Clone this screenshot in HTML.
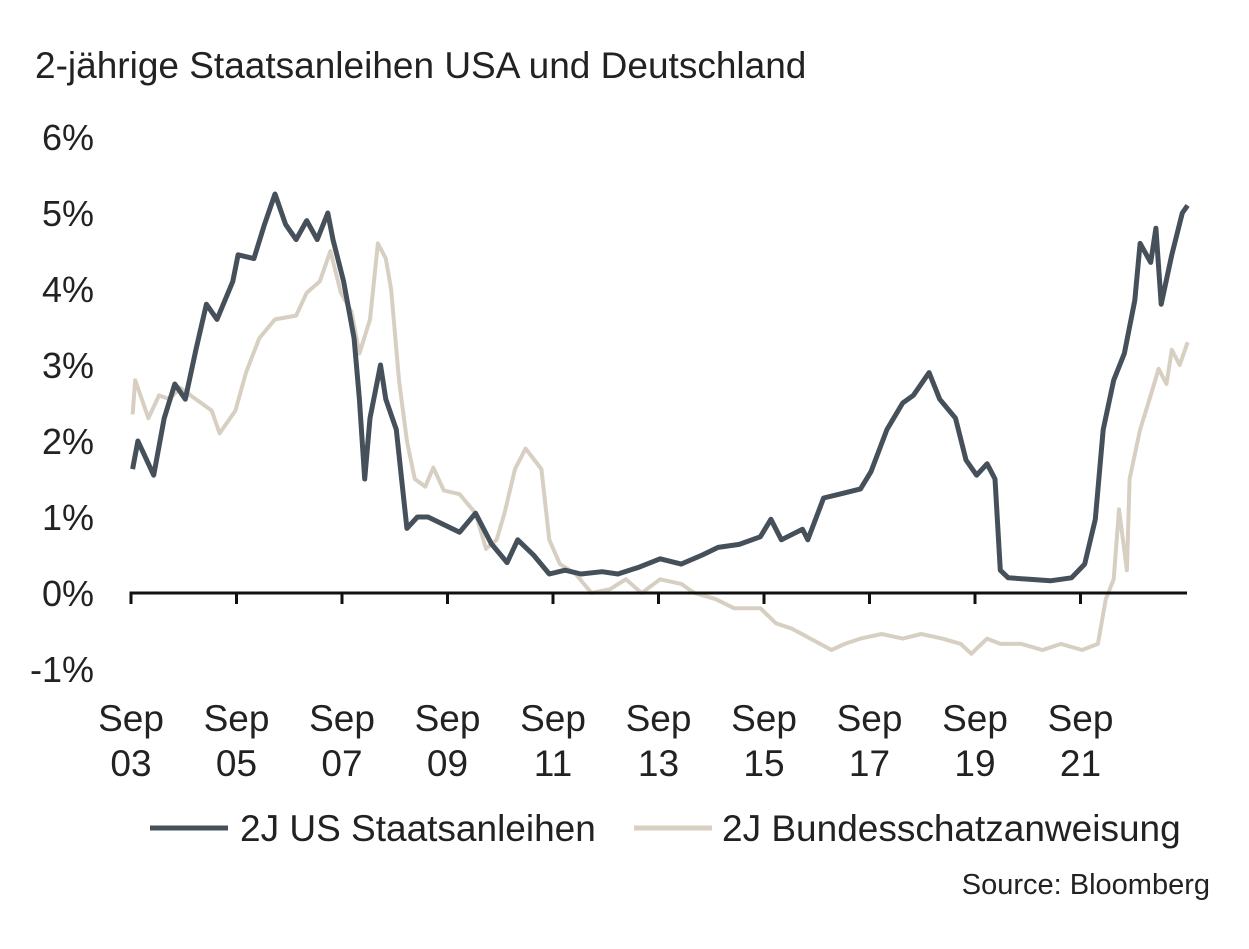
<!DOCTYPE html>
<html><head><meta charset="utf-8"><style>
body{margin:0;background:#fff;}
svg{display:block;font-family:"Liberation Sans",sans-serif;}
</style></head><body>
<svg width="1249" height="949">
<text x="35" y="78" font-size="37" fill="#222">2-jährige Staatsanleihen USA und Deutschland</text>
<g id="yl"></g><g id="xl"></g>
<path id="de" fill="none" stroke="#d8cfc3" stroke-width="4" stroke-linejoin="round"/>
<path id="us" fill="none" stroke="#46505a" stroke-width="5" stroke-linejoin="round"/>
<g id="ax"></g>
<line x1="150" y1="828" x2="228" y2="828" stroke="#46505a" stroke-width="5"/>
<text x="240" y="841" font-size="37" fill="#222">2J US Staatsanleihen</text>
<line x1="634" y1="828" x2="712" y2="828" stroke="#d8cfc3" stroke-width="5"/>
<text x="722" y="841" font-size="37" fill="#222">2J Bundesschatzanweisung</text>
<text x="1210" y="894" font-size="29" fill="#222" text-anchor="end">Source: Bloomberg</text>
</svg>
<script>
const yTicks=[-1,0,1,2,3,4,5,6];
const xTickYears=[2003.67,2005.67,2007.67,2009.67,2011.67,2013.67,2015.67,2017.67,2019.67,2021.67];
const xTickLabels=["03","05","07","09","11","13","15","17","19","21"];
const usT=[2003.7,2003.8,2004.1,2004.3,2004.5,2004.7,2004.9,2005.1,2005.3,2005.6,2005.7,2006.0,2006.2,2006.4,2006.6,2006.8,2007.0,2007.2,2007.4,2007.5,2007.7,2007.9,2008.0,2008.1,2008.2,2008.4,2008.5,2008.7,2008.9,2009.1,2009.3,2009.6,2009.9,2010.2,2010.5,2010.8,2011.0,2011.3,2011.6,2011.9,2012.2,2012.6,2012.9,2013.3,2013.7,2014.1,2014.5,2014.8,2015.2,2015.6,2015.8,2016.0,2016.4,2016.5,2016.8,2017.1,2017.5,2017.7,2018.0,2018.3,2018.5,2018.8,2019.0,2019.3,2019.5,2019.7,2019.9,2020.05,2020.15,2020.3,2020.7,2021.1,2021.5,2021.75,2021.95,2022.1,2022.3,2022.5,2022.7,2022.8,2023.0,2023.1,2023.2,2023.4,2023.6,2023.7];
const usV=[1.63,2.0,1.55,2.3,2.75,2.55,3.2,3.8,3.6,4.1,4.45,4.4,4.85,5.25,4.85,4.65,4.9,4.65,5.0,4.65,4.1,3.35,2.55,1.5,2.3,3.0,2.55,2.15,0.85,1.0,1.0,0.9,0.8,1.05,0.65,0.4,0.7,0.5,0.25,0.3,0.25,0.28,0.25,0.34,0.45,0.38,0.5,0.6,0.64,0.74,0.97,0.7,0.84,0.7,1.25,1.3,1.37,1.6,2.15,2.5,2.6,2.9,2.55,2.3,1.75,1.55,1.7,1.5,0.3,0.2,0.18,0.16,0.2,0.38,0.97,2.15,2.8,3.15,3.85,4.6,4.35,4.8,3.8,4.45,5.0,5.1];
const deT=[2003.7,2003.75,2003.8,2004.0,2004.2,2004.4,2004.6,2004.9,2005.2,2005.35,2005.65,2005.85,2006.1,2006.4,2006.8,2007.0,2007.25,2007.45,2007.65,2007.85,2008.0,2008.2,2008.35,2008.5,2008.6,2008.75,2008.9,2009.05,2009.25,2009.4,2009.6,2009.9,2010.2,2010.4,2010.6,2010.75,2010.95,2011.15,2011.45,2011.6,2011.8,2012.1,2012.4,2012.75,2013.05,2013.35,2013.7,2014.1,2014.35,2014.75,2015.1,2015.6,2015.9,2016.2,2016.55,2016.95,2017.2,2017.5,2017.9,2018.3,2018.65,2019.05,2019.4,2019.6,2019.9,2020.15,2020.55,2020.95,2021.3,2021.7,2022.0,2022.15,2022.3,2022.4,2022.55,2022.6,2022.8,2023.0,2023.15,2023.3,2023.4,2023.55,2023.7];
const deV=[2.35,2.8,2.7,2.3,2.6,2.55,2.7,2.55,2.4,2.1,2.4,2.9,3.35,3.6,3.65,3.95,4.1,4.5,3.95,3.7,3.15,3.6,4.6,4.4,4.0,2.8,2.0,1.5,1.4,1.65,1.35,1.3,1.05,0.58,0.7,1.05,1.63,1.9,1.63,0.7,0.38,0.25,0.0,0.05,0.18,0.0,0.18,0.12,0.0,-0.08,-0.2,-0.2,-0.4,-0.47,-0.6,-0.75,-0.67,-0.6,-0.54,-0.6,-0.54,-0.6,-0.67,-0.8,-0.6,-0.67,-0.67,-0.75,-0.67,-0.75,-0.67,-0.08,0.18,1.1,0.3,1.5,2.15,2.6,2.95,2.75,3.2,3.0,3.3];
const NS="http://www.w3.org/2000/svg";
const X=t=>131+(t-2003.67)*52.75;
const Y=v=>593-v*76;
function path(ts,vs){return ts.map((t,i)=>(i?"L":"M")+X(t).toFixed(1)+","+Y(vs[i]).toFixed(1)).join("");}
document.getElementById('us').setAttribute('d',path(usT,usV));
document.getElementById('de').setAttribute('d',path(deT,deV));
const yl=document.getElementById('yl');
yTicks.forEach(v=>{const t=document.createElementNS(NS,'text');
t.setAttribute('x',94);t.setAttribute('y',Y(v)+13);t.setAttribute('text-anchor','end');t.setAttribute('font-size','36');t.setAttribute('fill','#222');


t.textContent=v+'%';yl.appendChild(t);});
const ax=document.getElementById('ax');
const base=document.createElementNS(NS,'path');
base.setAttribute('d',`M${X(2003.67)},604V${Y(0)}H1187`);base.setAttribute('stroke','#111');base.setAttribute('stroke-width','3');base.setAttribute('fill','none');


ax.appendChild(base);
const xl=document.getElementById('xl');
xTickYears.forEach((yr,i)=>{const x=X(yr);
const l=document.createElementNS(NS,'line');l.setAttribute('x1',x);l.setAttribute('x2',x);l.setAttribute('y1',Y(0));l.setAttribute('y2',604);l.setAttribute('stroke','#111');l.setAttribute('stroke-width','3');


ax.appendChild(l);
[['Sep',731],[xTickLabels[i],776]].forEach(([s,y])=>{const t=document.createElementNS(NS,'text');
t.setAttribute('x',x);t.setAttribute('y',y);t.setAttribute('text-anchor','middle');t.setAttribute('font-size','37');t.setAttribute('fill','#222');


t.textContent=s;xl.appendChild(t);});});
</script>
</body></html>
